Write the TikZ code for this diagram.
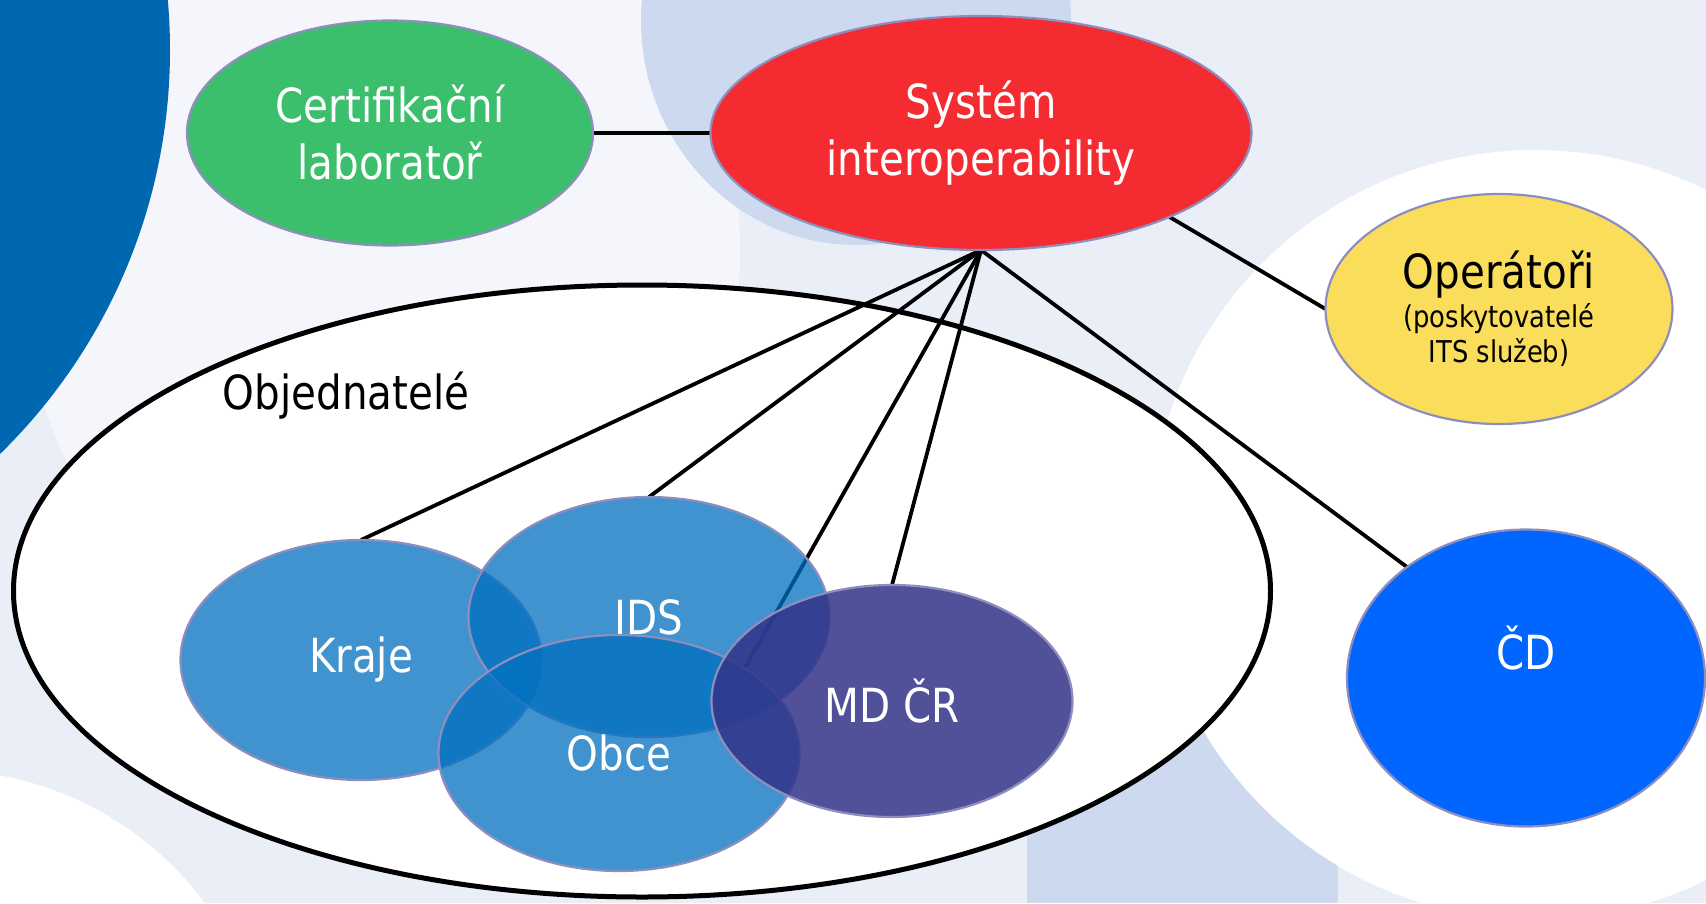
\documentclass[tikz,border=0pt]{standalone}
\usepackage{fontspec}
\setmainfont{DejaVu Sans}[FakeStretch=0.86]
\usetikzlibrary{shapes.geometric}

\definecolor{bgbase}{HTML}{E9EEF7}
\definecolor{bgpale}{HTML}{F5F6FB}
\definecolor{bgmid}{HTML}{CDD9EE}
\definecolor{bgdeep}{HTML}{0068B1}
\definecolor{rimgray}{HTML}{8E8EBE}
\definecolor{labgreen}{HTML}{3CBF6C}
\definecolor{sysred}{HTML}{F42B30}
\definecolor{opsyellow}{HTML}{FBDD5C}
\definecolor{cdblue}{HTML}{0066FF}
\definecolor{memberblue}{HTML}{0070C0}
\definecolor{mdpurple}{HTML}{333388}

\newcommand{\bubfont}{\fontsize{47}{57}\selectfont}
\newcommand{\smallbub}{\fontsize{30}{36}\selectfont}

\tikzstyle{bubble} = [ellipse, draw=rimgray, line width=2.2pt, inner sep=0pt, outer sep=0pt, text=white, align=center, font=\bubfont]
\tikzstyle{member} = [bubble, fill=memberblue, fill opacity=0.75, text opacity=1, minimum width=361pt, minimum height=240pt]
\tikzstyle{group} = [ellipse, draw=black, line width=5pt, fill=white, minimum width=1257pt, minimum height=612pt, inner sep=0pt]
\tikzstyle{link} = [line width=3.8pt]

\pgfdeclarelayer{background}
\pgfsetlayers{background,main}

\begin{document}
\begin{tikzpicture}[x=1pt, y=-1pt, node distance=300pt, auto]

\useasboundingbox (0,0) rectangle (1706,903);
\clip (0,0) rectangle (1706,903);

\begin{pgfonlayer}{background}
\fill [bgbase] (0,0) rectangle (1706,903);
\fill [bgpale] (380,250) ellipse [x radius=360, y radius=430];
\fill [bgmid] (856,20) ellipse [x radius=215, y radius=225];
\fill [bgmid] (1027,600) rectangle (1338,903);
\fill [white] (1535,535) circle [radius=385];
\fill [white] (-60,1100) circle [radius=330];
\fill [bgdeep] (-395,50) circle [radius=565];
\end{pgfonlayer}

\node (sys)		[bubble, fill=sysred, minimum width=541pt, minimum height=234pt] at (981,133)	{Systém\\interoperability};
\node (lab)		[bubble, fill=labgreen, minimum width=406pt, minimum height=225pt, left of=sys, xshift=-291pt]	{Certifikační\\laboratoř};
\node (ops)		[bubble, fill=opsyellow, text=black, minimum width=347pt, minimum height=230pt, right of=sys, xshift=218pt, yshift=-176pt]	{Operátoři\\[-18pt]\smallbub (poskytovatelé\\[-22pt]\smallbub ITS služeb)};
\node (cd)		[bubble, fill=cdblue, minimum width=358pt, minimum height=297pt, text depth=60pt, below of=ops, xshift=27pt, yshift=-69pt]	{ČD};
\node (kraje)	[member, below of=lab, xshift=-29pt, yshift=-227pt]		{Kraje};
\node (ids)		[member, right of=kraje, xshift=-12pt, yshift=43pt]		{IDS};
\node (obce)	[member, minimum height=236pt, below of=ids, xshift=-30pt, yshift=164pt]	{Obce};
\node (mdcr)	[member, fill=mdpurple, fill opacity=0.85, minimum height=232pt, right of=ids, xshift=-57pt, yshift=-84pt]	{MD ČR};

\begin{pgfonlayer}{background}
\node (obj)		[group, below of=sys, xshift=-339pt, yshift=-158pt]		{};
\node (objname)	[left of=obj, xshift=4pt, yshift=195pt, font=\bubfont]	{Objednatelé};

\draw [link] (lab.east) -- (sys.west);
\draw [link] (sys.-24) -- (ops.west);
\draw [link] (sys.south) -- (kraje.north);
\draw [link] (sys.south) -- (ids.north);
\draw [link] (sys.south) -- (obce.34);
\draw [link] (sys.south) -- (mdcr.north);
\draw [link] (sys.south) -- (cd.137);
\end{pgfonlayer}

\end{tikzpicture}
\end{document}
